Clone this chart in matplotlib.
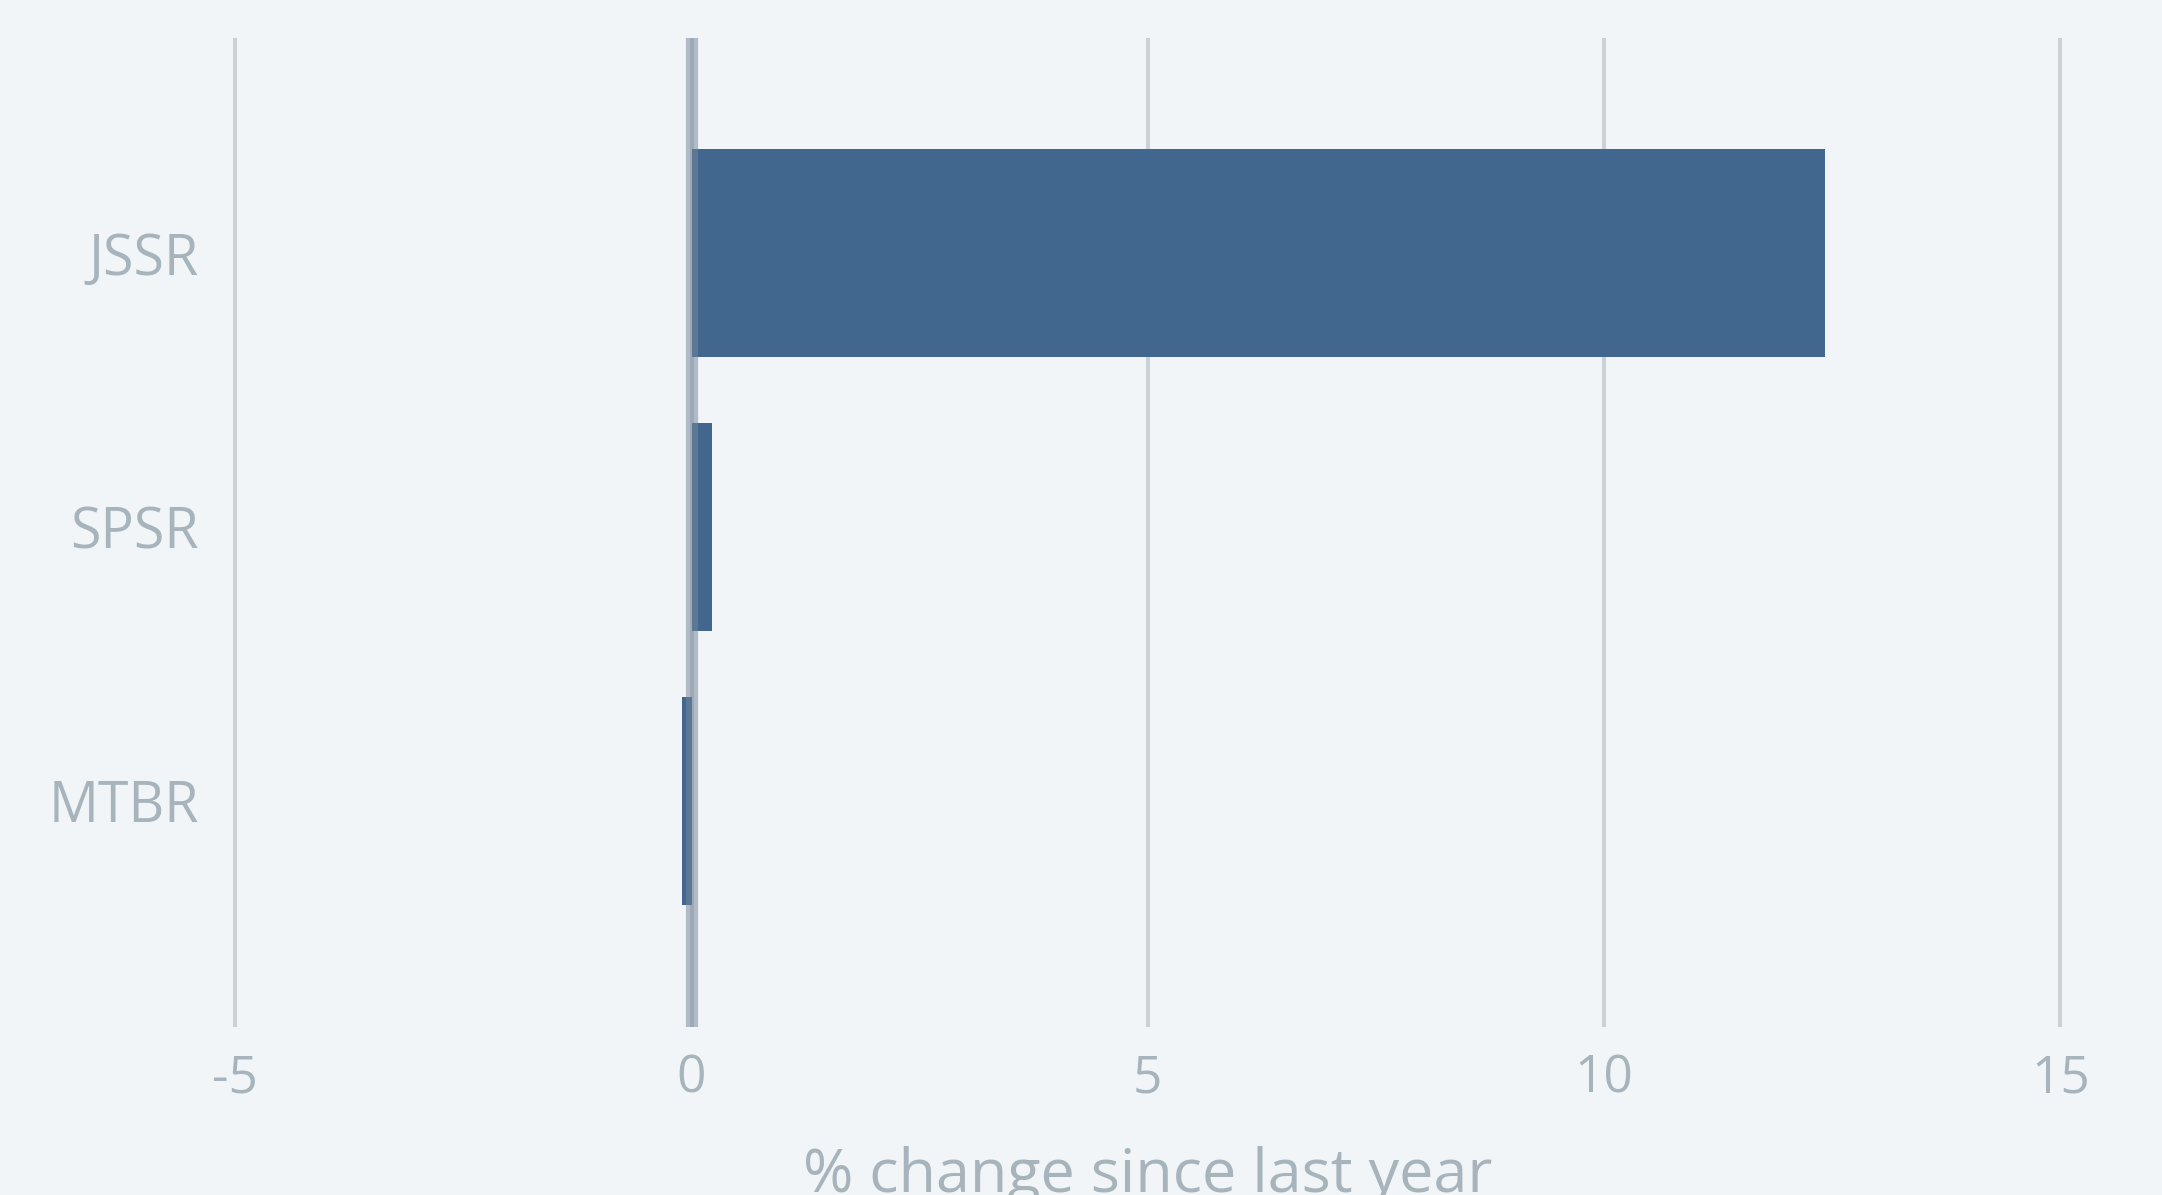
import matplotlib.pyplot as plt

# data
categories = ['MTBR', 'SPSR', 'JSSR']
values = [-0.10, 0.23, 12.42]
xticks = [-5, 0, 5, 10, 15]
xtick_labels = ['-5', '0', '5', '10', '15']

bg = '#f1f5f8'
txt = '#a7b4bc'
bar_color = '#41678f'

plt.rcParams['font.family'] = ['Open Sans', 'DejaVu Sans']

fig = plt.figure(figsize=(21.62, 11.95), dpi=100, facecolor=bg)
W, H = 2162, 1195
px = 91.25  # pixels per unit on x
x0_pix = 691.5
xmin, xmax = -5.4, 15.4
left = (x0_pix + xmin * px) / W
width = (xmax - xmin) * px / W
bottom = 1 - 1027 / H
top = 1 - 38 / H
ax = fig.add_axes([left, bottom, width, top - bottom], facecolor=bg)

ypos = list(range(len(categories)))

# grid lines
for t in xticks:
    ax.axvline(t, color='#c9d1d6', lw=2.9, zorder=0)

ax.barh(ypos, values, height=0.76, color=bar_color, zorder=2)

# zero line, drawn over the bars
ax.axvline(0, color='#75869a', alpha=0.52, lw=8.8, solid_capstyle='round', zorder=3)

ax.set_xlim(xmin, xmax)
ax.set_ylim(-0.825, 2.785)

ax.set_xticks(xticks)
ax.set_xticklabels(xtick_labels)
ax.set_yticks(ypos)
ax.set_yticklabels(categories)
ax.tick_params(axis='both', length=0, colors=txt, labelsize=37)
ax.tick_params(axis='x', pad=19)
ax.tick_params(axis='y', pad=0)
for lab in ax.get_yticklabels():
    lab.set_fontsize(40)

for s in ax.spines.values():
    s.set_visible(False)

ax.set_xlabel('% change since last year', color=txt, fontsize=44, labelpad=30)

fig.savefig('out.png', dpi=100, facecolor=bg)
